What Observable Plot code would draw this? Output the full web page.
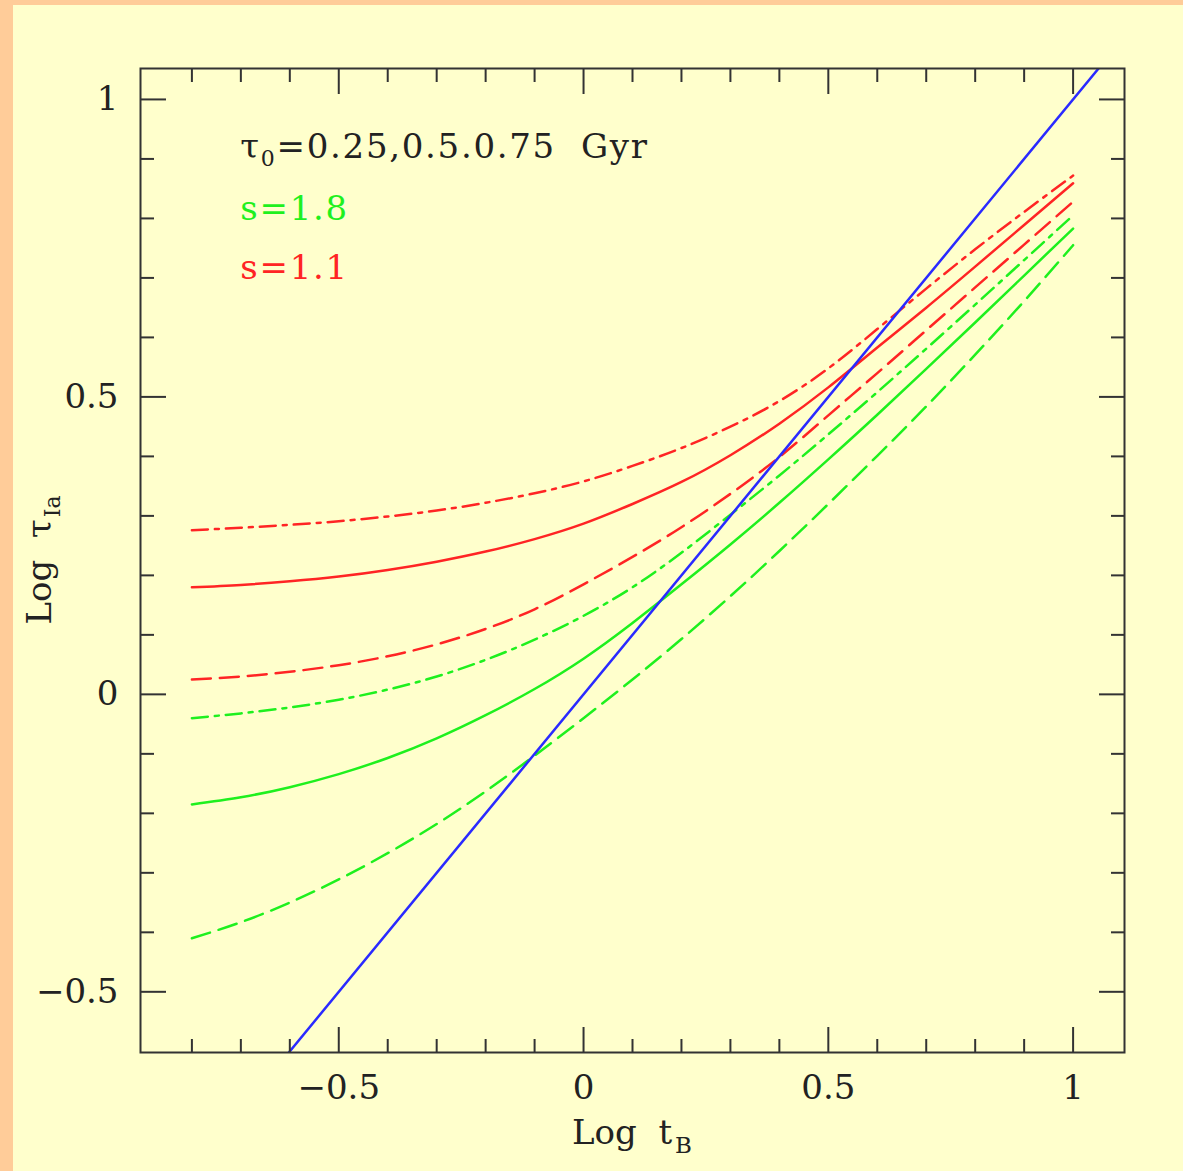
<!DOCTYPE html>
<html><head><meta charset="utf-8">
<script src="https://cdn.jsdelivr.net/npm/d3@7"></script>
<script src="https://cdn.jsdelivr.net/npm/@observablehq/plot@0.6"></script>
<style>
html,body{margin:0;padding:0;background:#FFCC99;width:1183px;height:1171px;overflow:hidden;}
#panel{position:absolute;left:13px;top:5px;width:1170px;height:1166px;background:#FFFFCC;}
</style></head><body><div id="panel"></div>
<script>
// x: Log t_B
const logT = [-0.8,-0.7,-0.6,-0.5,-0.4,-0.3,-0.2,-0.1,0,0.1,0.2,0.3,0.4,0.5,0.6,0.7,0.8,0.9,1.0];
// s = 1.1 (red)
const red_tau075 = [0.276,0.280,0.285,0.291,0.299,0.309,0.322,0.338,0.358,0.384,0.414,0.450,0.493,0.548,0.614,0.682,0.748,0.811,0.872];
const red_tau050 = [0.180,0.184,0.190,0.198,0.209,0.223,0.240,0.261,0.287,0.320,0.357,0.402,0.455,0.516,0.583,0.650,0.719,0.789,0.859];
const red_tau025 = [0.025,0.030,0.038,0.049,0.064,0.084,0.110,0.143,0.185,0.231,0.281,0.337,0.399,0.469,0.540,0.612,0.684,0.756,0.828];
// s = 1.8 (green)
const green_tau075 = [-0.040,-0.032,-0.022,-0.009,0.008,0.030,0.058,0.092,0.132,0.180,0.238,0.302,0.368,0.437,0.508,0.581,0.655,0.730,0.805];
const green_tau050 = [-0.185,-0.173,-0.156,-0.134,-0.107,-0.074,-0.035,0.009,0.060,0.120,0.185,0.252,0.322,0.395,0.470,0.547,0.625,0.704,0.783];
const green_tau025 = [-0.410,-0.383,-0.350,-0.311,-0.267,-0.218,-0.163,-0.103,-0.040,0.025,0.093,0.165,0.241,0.320,0.401,0.484,0.571,0.661,0.755];
// identity line tau_Ia = t_B (blue)
const blueX = [-0.602, 1.052];
const blueY = [-0.602, 1.052];
// ticks
const majorX = [-0.5, 0, 0.5, 1];
const minorX = [-0.8,-0.7,-0.6,-0.4,-0.3,-0.2,-0.1,0.1,0.2,0.3,0.4,0.6,0.7,0.8,0.9];
const majorY = [-0.5, 0, 0.5, 1];
const minorY = [-0.4,-0.3,-0.2,-0.1,0.1,0.2,0.3,0.4,0.6,0.7,0.8,0.9];
const xDomain = [-0.905, 1.105];
const yDomain = [-0.602, 1.052];

const RED = "#ff2424", GREEN = "#1ef01e", BLUE = "#2a2aff";
const DASH = "19,9", DASHDOT = "16,7,4,7";
const series = [
  {name:"s=1.1, tau0=0.75", y: red_tau075, color: RED, dash: DASHDOT},
  {name:"s=1.1, tau0=0.5", y: red_tau050, color: RED, dash: null},
  {name:"s=1.1, tau0=0.25", y: red_tau025, color: RED, dash: DASH},
  {name:"s=1.8, tau0=0.75", y: green_tau075, color: GREEN, dash: DASHDOT},
  {name:"s=1.8, tau0=0.5", y: green_tau050, color: GREEN, dash: null},
  {name:"s=1.8, tau0=0.25", y: green_tau025, color: GREEN, dash: DASH}
];
const blueRows = blueX.map((x,i)=>({x, y: blueY[i]}));

const FONT = "DejaVu Serif";
const FS = 34;
const fmt = d => (d < 0 ? "\u2212" : "") + Math.abs(d);
const tickStyle = {fill: "none", stroke: "#333", strokeWidth: 2, label: null};

const marks = [];
for (const s of series) {
  marks.push(Plot.line(logT.map((x,i)=>({x, y: s.y[i]})), {
    x: "x", y: "y", stroke: s.color, strokeWidth: 2.5,
    strokeDasharray: s.dash ?? undefined, curve: "natural"
  }));
}
marks.push(Plot.line(blueRows, {x:"x", y:"y", stroke: BLUE, strokeWidth: 2.5, clip: true}));
for (const anchor of ["bottom","top"]) {
  marks.push(Plot.axisX(majorX, {anchor, tickSize: -25, ...tickStyle}));
  marks.push(Plot.axisX(minorX, {anchor, tickSize: -13, ...tickStyle}));
}
for (const anchor of ["left","right"]) {
  marks.push(Plot.axisY(majorY, {anchor, tickSize: -26, ...tickStyle}));
  marks.push(Plot.axisY(minorY, {anchor, tickSize: -14, ...tickStyle}));
}
marks.push(Plot.axisX(majorX, {anchor:"bottom", tickSize: 0, tickPadding: 22, stroke: "none", fill: "#222",
  tickFormat: fmt, fontSize: FS, fontFamily: FONT, label: null}));
marks.push(Plot.axisY(majorY, {anchor:"left", tickSize: 0, tickPadding: 22, stroke: "none", fill: "#222",
  tickFormat: fmt, fontSize: FS, fontFamily: FONT, label: null}));
marks.push(Plot.frame({stroke: "#333", strokeWidth: 2}));

const chart = Plot.plot({
  width: 1170, height: 1166,
  marginLeft: 127, marginRight: 59, marginTop: 63, marginBottom: 119,
  x: {domain: xDomain},
  y: {domain: yDomain},
  style: {background: "transparent", fontFamily: FONT, overflow: "visible"},
  marks
});
document.getElementById("panel").appendChild(chart);

// annotations with subscripts
const sx = chart.scale("x"), sy = chart.scale("y");
const svg = d3.select(chart);
const g = svg.append("g").attr("font-family", FONT).attr("font-size", FS).attr("text-anchor", "start").style("white-space", "pre");
const cx = (sx.apply(xDomain[0]) + sx.apply(xDomain[1])) / 2;
const cy = (sy.apply(yDomain[0]) + sy.apply(yDomain[1])) / 2;

// x title
const xt = g.append("text").attr("x", cx).attr("y", 1139).attr("text-anchor", "middle").attr("fill", "#222");
xt.append("tspan").text("Log  t");
xt.append("tspan").attr("dx", 3).attr("dy", 9).attr("font-size", 23).text("B");

// y title
const yt = g.append("text").attr("transform", `translate(38,${cy}) rotate(-90)`).attr("text-anchor", "middle").attr("fill", "#222");
yt.append("tspan").text("Log  \u03C4");
yt.append("tspan").attr("dx", 2).attr("dy", 9).attr("font-size", 22).text("Ia");

// legend
const lx = sx.apply(-0.7);
const legend = g.append("g").attr("letter-spacing", 1.7);
const l1 = legend.append("text").attr("x", lx).attr("y", sy.apply(0.9)).attr("fill", "#222");
l1.append("tspan").text("\u03C4");
l1.append("tspan").attr("dy", 8).attr("font-size", 22).text("0");
l1.append("tspan").attr("dy", -8).text("=0.25,0.5.0.75  Gyr");
legend.append("text").attr("x", lx).attr("y", sy.apply(0.797)).attr("fill", GREEN).text("s=1.8");
legend.append("text").attr("x", lx).attr("y", sy.apply(0.697)).attr("fill", RED).text("s=1.1");
</script></body></html>
